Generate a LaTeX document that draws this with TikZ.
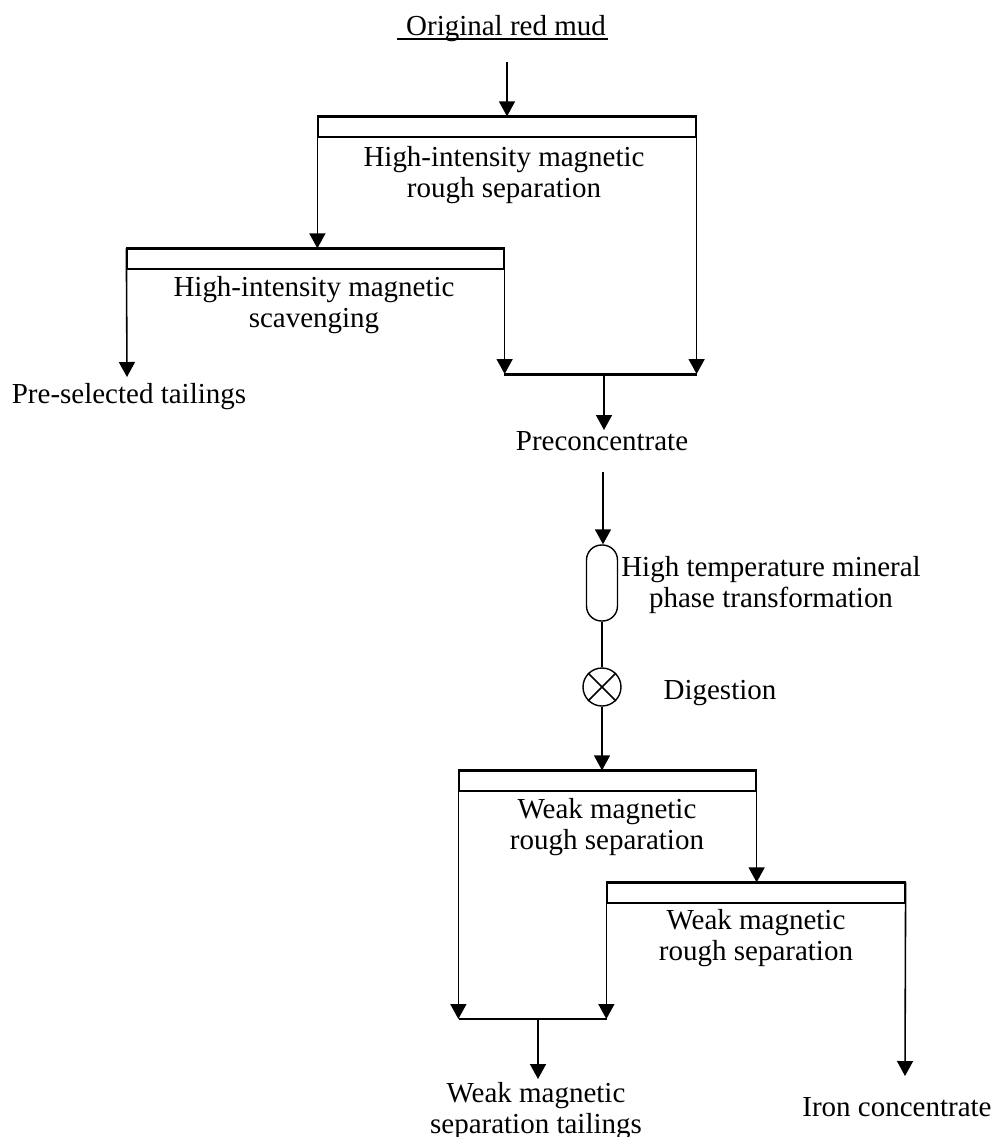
\documentclass[tikz,border=0pt]{standalone}
\usepackage{fontspec}
\setmainfont{Liberation Serif}
\usetikzlibrary{arrows.meta}

\begin{document}
\begin{tikzpicture}[x=0.02cm, y=-0.02cm,
    font=\fontsize{16.5}{17.5}\selectfont,
    flow/.style={line width=0.9pt, -{Triangle[width=0.32cm,length=0.3cm]}},
    pipe/.style={line width=0.9pt},
    header/.style={draw, line width=0.75pt, minimum height=0.4cm, inner sep=0pt},
    topline/.style={line width=1.7pt},
    txt/.style={align=center, inner sep=1pt}]

    \useasboundingbox (0,0) rectangle (994,1137);

    % feed
    \node[txt, anchor=base] (feed) at (506,35) {Original red mud};
    \draw[line width=0.7pt] ([xshift=-0.14cm,yshift=-0.08cm]feed.base west) -- ([yshift=-0.08cm]feed.base east);
    \coordinate (in0) at (507,62);

    % high-intensity stages
    \node[header, minimum width=7.56cm] (h1) at (507,127) {};
    \draw[topline] (h1.north west) -- (h1.north east);
    \node[txt] (t1) at (504,175) {High-intensity magnetic\\rough separation};

    \node[header, minimum width=7.54cm] (h2) at (315.5,259) {};
    \draw[topline] (h2.north west) -- (h2.north east);
    \node[txt] (t2) at (314,305) {High-intensity magnetic\\scavenging};

    \node[txt, anchor=base] (pst) at (129,403) {Pre-selected tailings};
    \coordinate (pstin) at (127,377);
    \coordinate (m1l) at (504,374);
    \coordinate (m1r) at (697,374);
    \coordinate (m1) at (604,374);

    \draw[flow] (in0) -- (h1.north);
    \draw[flow] (h1.north west) -- (h1.north west |- h2.north);
    \draw[flow] (h1.north east) -- (h1.north east |- m1r);
    \draw[flow] (h2.north west) -- (pstin);
    \draw[flow] (h2.north east) -- (h2.north east |- m1l);
    \draw[topline] (m1l) -- (m1r);

    % preconcentrate, roasting, digestion
    \node[txt, anchor=base] (pre) at (602,450) {Preconcentrate};
    \coordinate (prein) at (604,430);
    \coordinate (pre0) at (603,472);
    \draw[flow] (m1) -- (prein);

    \node[draw, rounded corners=0.3cm, minimum width=0.62cm, minimum height=1.52cm, line width=0.8pt] (cap) at (602,583) {};
    \node[txt] (hot) at (771,585) {High temperature mineral\\phase transformation};
    \draw[flow] (pre0) -- (pre0 |- cap.north);

    \node[draw, circle, minimum size=0.76cm, inner sep=0pt, line width=0.8pt] (dig) at (602,687) {};
    \draw[pipe] (dig.north west) -- (dig.south east) (dig.north east) -- (dig.south west);
    \draw[pipe] (cap.south) -- (dig.north);
    \node[txt, anchor=base] (digt) at (720,699) {Digestion};

    % weak magnetic stages
    \node[header, minimum width=5.94cm] (h3) at (607.5,781) {};
    \draw[topline] (h3.north west) -- (h3.north east);
    \node[txt] (t3) at (607,827) {Weak magnetic\\rough separation};

    \node[header, minimum width=5.96cm] (h4) at (756,893) {};
    \draw[topline] (h4.north west) -- (h4.north east);
    \node[txt] (t4) at (756,938) {Weak magnetic\\rough separation};

    \draw[flow] (dig.south) -- (dig.south |- h3.north);

    \coordinate (m2l) at (459,1019);
    \coordinate (m2r) at (607,1019);
    \coordinate (m2) at (538,1019);
    \coordinate (tailin) at (538,1079);
    \coordinate (ironin) at (905,1076);

    \draw[flow] (h3.north west) -- (h3.north west |- m2l);
    \draw[flow] (h3.north east) -- (h3.north east |- h4.north);
    \draw[flow] (h4.north west) -- (h4.north west |- m2r);
    \draw[flow] (h4.north east) -- (ironin);
    \draw[line width=1.1pt] (m2l) -- (m2r);
    \draw[flow] (m2) -- (tailin);

    \node[txt] (tail) at (536,1111) {Weak magnetic\\separation tailings};
    \node[txt, anchor=base] (iron) at (897,1116) {Iron concentrate};

\end{tikzpicture}
\end{document}
